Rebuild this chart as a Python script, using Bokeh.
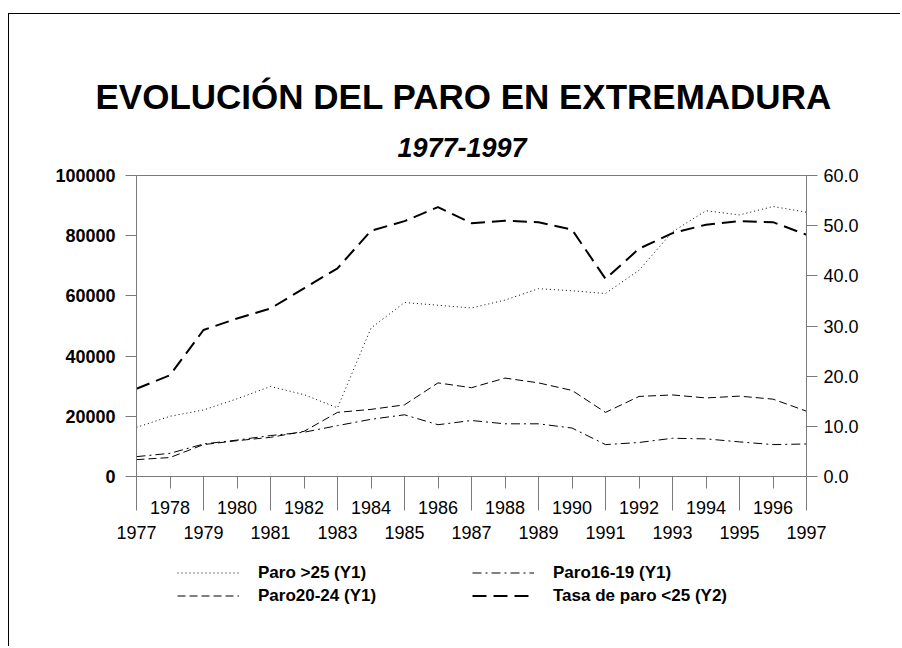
from bokeh.plotting import figure
from bokeh.layouts import column
from bokeh.models import (Range1d, LinearAxis, FixedTicker, NumeralTickFormatter,
                          Title, Legend, LegendItem)
from bokeh.embed import file_html
from bokeh.resources import INLINE

# ---------------- data ----------------
years = [1977, 1978, 1979, 1980, 1981, 1982, 1983, 1984, 1985, 1986, 1987,
         1988, 1989, 1990, 1991, 1992, 1993, 1994, 1995, 1996, 1997]
paro_mas25 = [16300, 20000, 22100, 25800, 29900, 27200, 22800, 49300, 57800, 56900, 56000,
              58600, 62400, 61700, 60800, 68500, 81300, 88300, 86900, 89700, 87800]
paro16_19 = [6600, 7700, 10800, 12100, 13600, 14700, 16900, 19000, 20500, 17200, 18600,
             17500, 17500, 16100, 10600, 11300, 12700, 12500, 11500, 10600, 10800]
paro20_24 = [5600, 6300, 10600, 11900, 13000, 15000, 21300, 22300, 23800, 31100, 29500,
             32700, 31100, 28600, 21300, 26600, 27100, 26100, 26700, 25700, 21700]
tasa_paro = [17.5, 20.2, 29.2, 31.5, 33.5, 37.5, 41.5, 49.0, 50.9, 53.7, 50.5,
             51.0, 50.7, 49.2, 39.4, 45.4, 48.5, 50.2, 50.9, 50.7, 48.2]

y1_ticks = [0, 20000, 40000, 60000, 80000, 100000]
y2_ticks = [0, 10, 20, 30, 40, 50, 60]
even_years = [1978, 1980, 1982, 1984, 1986, 1988, 1990, 1992, 1994, 1996]
odd_years = [1977, 1979, 1981, 1983, 1985, 1987, 1989, 1991, 1993, 1995, 1997]

series_labels = ["Paro >25 (Y1)", "Paro16-19 (Y1)", "Paro20-24 (Y1)", "Tasa de paro <25 (Y2)"]
title_text = "EVOLUCIÓN DEL PARO EN EXTREMADURA"
subtitle_text = "1977-1997"

# ---------------- styling ----------------
FONT = "Liberation Sans"
GRAY = "#7a7a7a"
STYLES = [
    dict(line_color="black", line_width=1, line_dash="1 3"),      # >25
    dict(line_color="black", line_width=1, line_dash="9 4 2 4"),  # 16-19
    dict(line_color="black", line_width=1, line_dash="8 4"),      # 20-24
    dict(line_color="black", line_width=2, line_dash="14 7"),     # tasa
]

p = figure(width=892, height=542, output_backend="svg", toolbar_location=None,
           title=None,
           x_range=Range1d(1977, 1997), y_range=Range1d(0, 100000),
           min_border_left=127, min_border_right=95, min_border_top=161,
           min_border_bottom=80)
p.extra_y_ranges = {"y2": Range1d(0, 60)}
p.margin = (13, 0, 0, 8)
p.styles = {"border-left": "1px solid black", "border-top": "1px solid black"}
p.background_fill_color = "white"
p.border_fill_color = "white"
p.outline_line_color = GRAY
p.outline_line_width = 1
p.xgrid.grid_line_color = None
p.ygrid.grid_line_color = None

p.line(years, paro_mas25, **STYLES[0])
p.line(years, paro16_19, **STYLES[1])
p.line(years, paro20_24, **STYLES[2])
p.line(years, tasa_paro, y_range_name="y2", **STYLES[3])

# left axis
yl = p.yaxis[0]
yl.ticker = FixedTicker(ticks=y1_ticks)
yl.formatter = NumeralTickFormatter(format="0")
yl.major_label_text_font = FONT
yl.major_label_text_font_style = "bold"
yl.major_label_text_font_size = "18px"
yl.major_label_text_color = "black"
yl.major_label_standoff = 10
yl.major_tick_out = 11
yl.major_tick_in = 0
yl.minor_tick_line_color = None
yl.axis_line_color = GRAY
yl.major_tick_line_color = GRAY

# right axis
yr = LinearAxis(y_range_name="y2", ticker=FixedTicker(ticks=y2_ticks),
                formatter=NumeralTickFormatter(format="0.0"))
yr.major_label_text_font = FONT
yr.major_label_text_font_size = "18px"
yr.major_label_text_color = "black"
yr.major_label_standoff = 6
yr.major_tick_out = 11
yr.major_tick_in = 0
yr.minor_tick_line_color = None
yr.axis_line_color = GRAY
yr.major_tick_line_color = GRAY
p.add_layout(yr, "right")

# bottom axis (even-year labels, long ticks at odd years)
xb = p.xaxis[0]
xb.ticker = FixedTicker(ticks=even_years, minor_ticks=odd_years)
xb.formatter = NumeralTickFormatter(format="0")
xb.major_label_text_font = FONT
xb.major_label_text_font_size = "18px"
xb.major_label_text_color = "black"
xb.major_label_standoff = -10
xb.major_tick_out = 12
xb.major_tick_in = 0
xb.minor_tick_out = 34
xb.minor_tick_in = 0
xb.axis_line_color = GRAY
xb.major_tick_line_color = GRAY
xb.minor_tick_line_color = GRAY

# second row of year labels (odd years)
xb2 = LinearAxis(ticker=FixedTicker(ticks=odd_years), formatter=NumeralTickFormatter(format="0"))
xb2.major_label_text_font = FONT
xb2.major_label_text_font_size = "18px"
xb2.major_label_text_color = "black"
xb2.major_label_standoff = 9
xb2.major_tick_out = 0
xb2.major_tick_in = 0
xb2.axis_line_color = None
xb2.major_tick_line_color = None
xb2.minor_tick_line_color = None
p.add_layout(xb2, "below")

# titles (subtitle nearest the frame)
p.add_layout(Title(text=subtitle_text, align="left", offset=261, standoff=37,
                   text_font=FONT, text_font_size="27px", text_font_style="bold italic",
                   text_color="black"), "above")
p.add_layout(Title(text=title_text, align="left", offset=-41, standoff=3,
                   text_font=FONT, text_font_size="35px", text_font_style="bold",
                   text_color="black"), "above")

# legend strip (its own figure; its frame is aligned with the chart's frame)
pl = figure(width=892, height=91, output_backend="svg", toolbar_location=None,
            title=None, x_axis_type=None, y_axis_type=None, min_border=0,
            x_range=Range1d(1977, 1997), y_range=Range1d(200000, 200001))
pl.margin = (0, 0, 0, 8)
pl.styles = {"border-left": "1px solid black"}
pl.outline_line_color = None
pl.background_fill_color = "white"
pl.border_fill_color = "white"
pl.xgrid.grid_line_color = None
pl.ygrid.grid_line_color = None
l1 = pl.line(years, paro_mas25, **STYLES[0])
l2 = pl.line(years, paro16_19, **STYLES[1])
l3 = pl.line(years, paro20_24, **STYLES[2])
l4 = pl.line(years, tasa_paro, **STYLES[3])


def make_legend(items, loc):
    return Legend(items=items, location=loc, orientation="vertical",
                  label_text_font=FONT, label_text_font_style="bold",
                  label_text_font_size="17px", label_text_color="black",
                  glyph_width=62, glyph_height=23, label_height=23,
                  label_standoff=19, spacing=0, padding=0, margin=0,
                  border_line_color=None, background_fill_alpha=0)


pl.add_layout(make_legend([LegendItem(label=series_labels[0], renderers=[l1]),
                           LegendItem(label=series_labels[2], renderers=[l3])], (41, 39)))
pl.add_layout(make_legend([LegendItem(label=series_labels[1], renderers=[l2]),
                           LegendItem(label=series_labels[3], renderers=[l4])], (336, 39)))

layout = column(p, pl, spacing=0)
open("out.html", "w").write(file_html(layout, INLINE))
